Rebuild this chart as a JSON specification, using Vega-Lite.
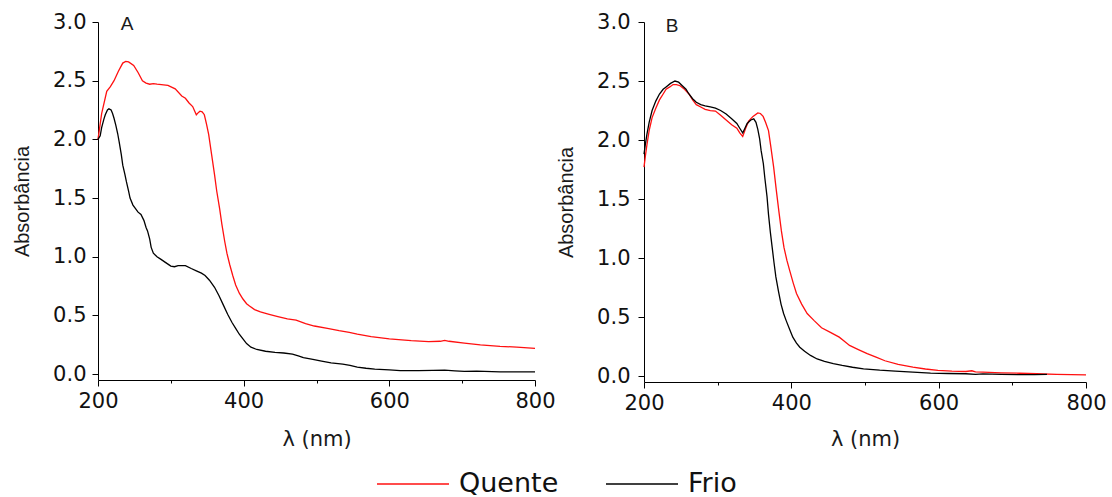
{
  "$schema": "https://vega.github.io/schema/vega-lite/v6.json",
  "padding": {"left": 12, "top": 11, "right": 5, "bottom": 0},
  "background": "white",
  "datasets": {
    "spectra": [
      {"p":"A","s":"Quente","nm":200,"a":2.0},{"p":"A","s":"Quente","nm":205,"a":2.22},{"p":"A","s":"Quente","nm":212,"a":2.41},{"p":"A","s":"Quente","nm":217,"a":2.45},{"p":"A","s":"Quente","nm":222,"a":2.5},{"p":"A","s":"Quente","nm":228,"a":2.58},{"p":"A","s":"Quente","nm":234,"a":2.65},{"p":"A","s":"Quente","nm":238,"a":2.665},{"p":"A","s":"Quente","nm":242,"a":2.66},{"p":"A","s":"Quente","nm":249,"a":2.63},{"p":"A","s":"Quente","nm":255,"a":2.57},{"p":"A","s":"Quente","nm":261,"a":2.5},{"p":"A","s":"Quente","nm":266,"a":2.48},{"p":"A","s":"Quente","nm":271,"a":2.47},{"p":"A","s":"Quente","nm":276,"a":2.475},{"p":"A","s":"Quente","nm":281,"a":2.47},{"p":"A","s":"Quente","nm":290,"a":2.465},{"p":"A","s":"Quente","nm":296,"a":2.46},{"p":"A","s":"Quente","nm":306,"a":2.43},{"p":"A","s":"Quente","nm":315,"a":2.37},{"p":"A","s":"Quente","nm":320,"a":2.35},{"p":"A","s":"Quente","nm":325,"a":2.31},{"p":"A","s":"Quente","nm":330,"a":2.28},{"p":"A","s":"Quente","nm":335,"a":2.21},{"p":"A","s":"Quente","nm":338,"a":2.23},{"p":"A","s":"Quente","nm":340,"a":2.24},{"p":"A","s":"Quente","nm":343,"a":2.235},{"p":"A","s":"Quente","nm":346,"a":2.21},{"p":"A","s":"Quente","nm":349,"a":2.13},{"p":"A","s":"Quente","nm":352,"a":2.04},{"p":"A","s":"Quente","nm":356,"a":1.87},{"p":"A","s":"Quente","nm":360,"a":1.7},{"p":"A","s":"Quente","nm":363,"a":1.56},{"p":"A","s":"Quente","nm":367,"a":1.41},{"p":"A","s":"Quente","nm":370,"a":1.28},{"p":"A","s":"Quente","nm":374,"a":1.13},{"p":"A","s":"Quente","nm":377,"a":1.03},{"p":"A","s":"Quente","nm":381,"a":0.93},{"p":"A","s":"Quente","nm":385,"a":0.84},{"p":"A","s":"Quente","nm":389,"a":0.76},{"p":"A","s":"Quente","nm":394,"a":0.69},{"p":"A","s":"Quente","nm":399,"a":0.64},{"p":"A","s":"Quente","nm":404,"a":0.6},{"p":"A","s":"Quente","nm":408,"a":0.58},{"p":"A","s":"Quente","nm":415,"a":0.55},{"p":"A","s":"Quente","nm":423,"a":0.53},{"p":"A","s":"Quente","nm":435,"a":0.51},{"p":"A","s":"Quente","nm":447,"a":0.49},{"p":"A","s":"Quente","nm":460,"a":0.47},{"p":"A","s":"Quente","nm":472,"a":0.46},{"p":"A","s":"Quente","nm":485,"a":0.43},{"p":"A","s":"Quente","nm":497,"a":0.41},{"p":"A","s":"Quente","nm":515,"a":0.39},{"p":"A","s":"Quente","nm":531,"a":0.37},{"p":"A","s":"Quente","nm":545,"a":0.355},{"p":"A","s":"Quente","nm":556,"a":0.34},{"p":"A","s":"Quente","nm":575,"a":0.32},{"p":"A","s":"Quente","nm":600,"a":0.3},{"p":"A","s":"Quente","nm":630,"a":0.285},{"p":"A","s":"Quente","nm":654,"a":0.277},{"p":"A","s":"Quente","nm":670,"a":0.28},{"p":"A","s":"Quente","nm":676,"a":0.288},{"p":"A","s":"Quente","nm":682,"a":0.28},{"p":"A","s":"Quente","nm":703,"a":0.265},{"p":"A","s":"Quente","nm":725,"a":0.25},{"p":"A","s":"Quente","nm":752,"a":0.237},{"p":"A","s":"Quente","nm":775,"a":0.23},{"p":"A","s":"Quente","nm":800,"a":0.22},
      {"p":"A","s":"Frio","nm":200,"a":2.0},{"p":"A","s":"Frio","nm":203,"a":2.03},{"p":"A","s":"Frio","nm":205,"a":2.1},{"p":"A","s":"Frio","nm":208,"a":2.17},{"p":"A","s":"Frio","nm":210,"a":2.21},{"p":"A","s":"Frio","nm":213,"a":2.25},{"p":"A","s":"Frio","nm":215,"a":2.26},{"p":"A","s":"Frio","nm":218,"a":2.25},{"p":"A","s":"Frio","nm":220,"a":2.22},{"p":"A","s":"Frio","nm":222,"a":2.18},{"p":"A","s":"Frio","nm":224.5,"a":2.12},{"p":"A","s":"Frio","nm":227,"a":2.05},{"p":"A","s":"Frio","nm":229,"a":1.98},{"p":"A","s":"Frio","nm":232,"a":1.87},{"p":"A","s":"Frio","nm":234,"a":1.78},{"p":"A","s":"Frio","nm":237,"a":1.7},{"p":"A","s":"Frio","nm":239,"a":1.64},{"p":"A","s":"Frio","nm":242,"a":1.56},{"p":"A","s":"Frio","nm":244,"a":1.5},{"p":"A","s":"Frio","nm":248,"a":1.44},{"p":"A","s":"Frio","nm":251.5,"a":1.41},{"p":"A","s":"Frio","nm":255,"a":1.38},{"p":"A","s":"Frio","nm":259,"a":1.36},{"p":"A","s":"Frio","nm":263,"a":1.31},{"p":"A","s":"Frio","nm":266,"a":1.25},{"p":"A","s":"Frio","nm":268,"a":1.22},{"p":"A","s":"Frio","nm":271,"a":1.15},{"p":"A","s":"Frio","nm":273,"a":1.08},{"p":"A","s":"Frio","nm":276,"a":1.03},{"p":"A","s":"Frio","nm":281,"a":1.0},{"p":"A","s":"Frio","nm":286,"a":0.98},{"p":"A","s":"Frio","nm":293,"a":0.95},{"p":"A","s":"Frio","nm":300,"a":0.92},{"p":"A","s":"Frio","nm":305,"a":0.915},{"p":"A","s":"Frio","nm":310,"a":0.925},{"p":"A","s":"Frio","nm":320,"a":0.925},{"p":"A","s":"Frio","nm":328,"a":0.9},{"p":"A","s":"Frio","nm":335,"a":0.88},{"p":"A","s":"Frio","nm":342,"a":0.86},{"p":"A","s":"Frio","nm":347,"a":0.84},{"p":"A","s":"Frio","nm":353,"a":0.8},{"p":"A","s":"Frio","nm":360,"a":0.74},{"p":"A","s":"Frio","nm":366,"a":0.67},{"p":"A","s":"Frio","nm":372,"a":0.59},{"p":"A","s":"Frio","nm":378,"a":0.51},{"p":"A","s":"Frio","nm":384,"a":0.44},{"p":"A","s":"Frio","nm":389,"a":0.39},{"p":"A","s":"Frio","nm":394,"a":0.34},{"p":"A","s":"Frio","nm":399,"a":0.3},{"p":"A","s":"Frio","nm":404,"a":0.26},{"p":"A","s":"Frio","nm":410,"a":0.23},{"p":"A","s":"Frio","nm":418,"a":0.21},{"p":"A","s":"Frio","nm":430,"a":0.195},{"p":"A","s":"Frio","nm":443,"a":0.185},{"p":"A","s":"Frio","nm":455,"a":0.18},{"p":"A","s":"Frio","nm":467,"a":0.17},{"p":"A","s":"Frio","nm":475,"a":0.155},{"p":"A","s":"Frio","nm":482,"a":0.14},{"p":"A","s":"Frio","nm":495,"a":0.125},{"p":"A","s":"Frio","nm":507,"a":0.11},{"p":"A","s":"Frio","nm":520,"a":0.095},{"p":"A","s":"Frio","nm":536,"a":0.085},{"p":"A","s":"Frio","nm":546,"a":0.075},{"p":"A","s":"Frio","nm":556,"a":0.06},{"p":"A","s":"Frio","nm":568,"a":0.05},{"p":"A","s":"Frio","nm":580,"a":0.043},{"p":"A","s":"Frio","nm":600,"a":0.037},{"p":"A","s":"Frio","nm":615,"a":0.03},{"p":"A","s":"Frio","nm":640,"a":0.03},{"p":"A","s":"Frio","nm":660,"a":0.032},{"p":"A","s":"Frio","nm":676,"a":0.034},{"p":"A","s":"Frio","nm":690,"a":0.028},{"p":"A","s":"Frio","nm":703,"a":0.023},{"p":"A","s":"Frio","nm":720,"a":0.025},{"p":"A","s":"Frio","nm":752,"a":0.02},{"p":"A","s":"Frio","nm":800,"a":0.02},
      {"p":"B","s":"Quente","nm":200,"a":1.77},{"p":"B","s":"Quente","nm":202,"a":1.87},{"p":"B","s":"Quente","nm":204,"a":1.96},{"p":"B","s":"Quente","nm":207,"a":2.08},{"p":"B","s":"Quente","nm":211,"a":2.19},{"p":"B","s":"Quente","nm":216,"a":2.27},{"p":"B","s":"Quente","nm":221,"a":2.34},{"p":"B","s":"Quente","nm":226,"a":2.39},{"p":"B","s":"Quente","nm":230,"a":2.43},{"p":"B","s":"Quente","nm":235,"a":2.45},{"p":"B","s":"Quente","nm":239.5,"a":2.47},{"p":"B","s":"Quente","nm":244,"a":2.47},{"p":"B","s":"Quente","nm":249,"a":2.46},{"p":"B","s":"Quente","nm":255,"a":2.43},{"p":"B","s":"Quente","nm":261,"a":2.39},{"p":"B","s":"Quente","nm":266,"a":2.34},{"p":"B","s":"Quente","nm":271,"a":2.3},{"p":"B","s":"Quente","nm":277,"a":2.28},{"p":"B","s":"Quente","nm":283,"a":2.26},{"p":"B","s":"Quente","nm":290,"a":2.25},{"p":"B","s":"Quente","nm":297,"a":2.245},{"p":"B","s":"Quente","nm":304,"a":2.21},{"p":"B","s":"Quente","nm":311.5,"a":2.17},{"p":"B","s":"Quente","nm":319,"a":2.13},{"p":"B","s":"Quente","nm":326,"a":2.1},{"p":"B","s":"Quente","nm":330,"a":2.06},{"p":"B","s":"Quente","nm":334,"a":2.03},{"p":"B","s":"Quente","nm":338,"a":2.1},{"p":"B","s":"Quente","nm":342,"a":2.16},{"p":"B","s":"Quente","nm":348,"a":2.2},{"p":"B","s":"Quente","nm":354.5,"a":2.23},{"p":"B","s":"Quente","nm":358,"a":2.225},{"p":"B","s":"Quente","nm":361.7,"a":2.2},{"p":"B","s":"Quente","nm":365,"a":2.15},{"p":"B","s":"Quente","nm":369,"a":2.08},{"p":"B","s":"Quente","nm":372,"a":1.95},{"p":"B","s":"Quente","nm":376,"a":1.77},{"p":"B","s":"Quente","nm":379.5,"a":1.58},{"p":"B","s":"Quente","nm":383,"a":1.4},{"p":"B","s":"Quente","nm":386.5,"a":1.23},{"p":"B","s":"Quente","nm":390,"a":1.09},{"p":"B","s":"Quente","nm":394,"a":0.98},{"p":"B","s":"Quente","nm":398,"a":0.89},{"p":"B","s":"Quente","nm":402.5,"a":0.79},{"p":"B","s":"Quente","nm":407,"a":0.7},{"p":"B","s":"Quente","nm":414,"a":0.61},{"p":"B","s":"Quente","nm":421.5,"a":0.53},{"p":"B","s":"Quente","nm":431,"a":0.47},{"p":"B","s":"Quente","nm":441,"a":0.41},{"p":"B","s":"Quente","nm":453,"a":0.37},{"p":"B","s":"Quente","nm":465,"a":0.33},{"p":"B","s":"Quente","nm":472,"a":0.295},{"p":"B","s":"Quente","nm":479,"a":0.26},{"p":"B","s":"Quente","nm":491,"a":0.225},{"p":"B","s":"Quente","nm":503,"a":0.19},{"p":"B","s":"Quente","nm":515,"a":0.16},{"p":"B","s":"Quente","nm":527,"a":0.13},{"p":"B","s":"Quente","nm":545,"a":0.1},{"p":"B","s":"Quente","nm":565,"a":0.076},{"p":"B","s":"Quente","nm":582,"a":0.06},{"p":"B","s":"Quente","nm":599,"a":0.048},{"p":"B","s":"Quente","nm":618,"a":0.042},{"p":"B","s":"Quente","nm":637,"a":0.039},{"p":"B","s":"Quente","nm":645,"a":0.045},{"p":"B","s":"Quente","nm":650,"a":0.035},{"p":"B","s":"Quente","nm":660,"a":0.033},{"p":"B","s":"Quente","nm":685,"a":0.028},{"p":"B","s":"Quente","nm":710,"a":0.024},{"p":"B","s":"Quente","nm":733,"a":0.02},{"p":"B","s":"Quente","nm":760,"a":0.015},{"p":"B","s":"Quente","nm":780,"a":0.012},{"p":"B","s":"Quente","nm":800,"a":0.011},
      {"p":"B","s":"Frio","nm":200,"a":1.88},{"p":"B","s":"Frio","nm":202,"a":1.97},{"p":"B","s":"Frio","nm":204,"a":2.05},{"p":"B","s":"Frio","nm":207,"a":2.15},{"p":"B","s":"Frio","nm":211,"a":2.25},{"p":"B","s":"Frio","nm":216,"a":2.33},{"p":"B","s":"Frio","nm":221,"a":2.39},{"p":"B","s":"Frio","nm":226,"a":2.43},{"p":"B","s":"Frio","nm":230,"a":2.45},{"p":"B","s":"Frio","nm":236,"a":2.48},{"p":"B","s":"Frio","nm":242,"a":2.5},{"p":"B","s":"Frio","nm":247,"a":2.49},{"p":"B","s":"Frio","nm":252,"a":2.46},{"p":"B","s":"Frio","nm":257,"a":2.43},{"p":"B","s":"Frio","nm":261,"a":2.39},{"p":"B","s":"Frio","nm":266,"a":2.35},{"p":"B","s":"Frio","nm":271,"a":2.32},{"p":"B","s":"Frio","nm":277,"a":2.3},{"p":"B","s":"Frio","nm":283,"a":2.29},{"p":"B","s":"Frio","nm":290,"a":2.28},{"p":"B","s":"Frio","nm":297,"a":2.27},{"p":"B","s":"Frio","nm":304,"a":2.25},{"p":"B","s":"Frio","nm":311.5,"a":2.22},{"p":"B","s":"Frio","nm":319,"a":2.18},{"p":"B","s":"Frio","nm":326,"a":2.14},{"p":"B","s":"Frio","nm":330,"a":2.1},{"p":"B","s":"Frio","nm":334,"a":2.06},{"p":"B","s":"Frio","nm":337,"a":2.1},{"p":"B","s":"Frio","nm":340,"a":2.14},{"p":"B","s":"Frio","nm":345,"a":2.17},{"p":"B","s":"Frio","nm":349,"a":2.18},{"p":"B","s":"Frio","nm":352,"a":2.15},{"p":"B","s":"Frio","nm":354.5,"a":2.09},{"p":"B","s":"Frio","nm":357,"a":2.01},{"p":"B","s":"Frio","nm":359,"a":1.91},{"p":"B","s":"Frio","nm":362,"a":1.8},{"p":"B","s":"Frio","nm":364,"a":1.68},{"p":"B","s":"Frio","nm":367,"a":1.52},{"p":"B","s":"Frio","nm":369,"a":1.37},{"p":"B","s":"Frio","nm":371.5,"a":1.22},{"p":"B","s":"Frio","nm":374,"a":1.09},{"p":"B","s":"Frio","nm":376.5,"a":0.96},{"p":"B","s":"Frio","nm":379,"a":0.84},{"p":"B","s":"Frio","nm":382.5,"a":0.72},{"p":"B","s":"Frio","nm":386,"a":0.61},{"p":"B","s":"Frio","nm":389.5,"a":0.53},{"p":"B","s":"Frio","nm":393,"a":0.47},{"p":"B","s":"Frio","nm":397.5,"a":0.4},{"p":"B","s":"Frio","nm":402,"a":0.33},{"p":"B","s":"Frio","nm":407,"a":0.28},{"p":"B","s":"Frio","nm":411.5,"a":0.245},{"p":"B","s":"Frio","nm":418,"a":0.21},{"p":"B","s":"Frio","nm":426,"a":0.175},{"p":"B","s":"Frio","nm":435,"a":0.145},{"p":"B","s":"Frio","nm":445,"a":0.124},{"p":"B","s":"Frio","nm":457,"a":0.105},{"p":"B","s":"Frio","nm":469,"a":0.09},{"p":"B","s":"Frio","nm":483,"a":0.075},{"p":"B","s":"Frio","nm":498,"a":0.062},{"p":"B","s":"Frio","nm":520,"a":0.05},{"p":"B","s":"Frio","nm":541,"a":0.042},{"p":"B","s":"Frio","nm":565,"a":0.033},{"p":"B","s":"Frio","nm":589,"a":0.025},{"p":"B","s":"Frio","nm":613,"a":0.022},{"p":"B","s":"Frio","nm":637,"a":0.02},{"p":"B","s":"Frio","nm":650,"a":0.015},{"p":"B","s":"Frio","nm":660,"a":0.018},{"p":"B","s":"Frio","nm":685,"a":0.014},{"p":"B","s":"Frio","nm":710,"a":0.012},{"p":"B","s":"Frio","nm":730,"a":0.013},{"p":"B","s":"Frio","nm":747,"a":0.014}
    ]
  },
  "config": {
    "view": {"stroke": null},
    "axis": {
      "grid": false,
      "domainColor": "#000000",
      "domainWidth": 1,
      "tickColor": "#000000",
      "tickWidth": 1,
      "labelColor": "#111111",
      "titleColor": "#1a1a1a",
      "labelFont": "DejaVu Sans",
      "labelFontSize": 21,
      "titleFontWeight": "normal",
      "labelFlush": false,
      "labelOverlap": false
    }
  },
  "spacing": 0,
  "resolve": {"scale": {"x": "independent", "y": "independent", "color": "shared"}, "legend": {"color": "shared"}},
  "hconcat": [
    {
      "width": 437,
      "height": 358,
      "layer": [
        {
          "data": {"name": "spectra"},
          "transform": [{"filter": "datum.p == 'A'"}],
          "mark": {"type": "line", "strokeWidth": 1.3},
          "encoding": {
            "x": {"field": "nm", "type": "quantitative",
              "scale": {"domain": [200, 800], "nice": false, "zero": false},
              "axis": {"values": [200,300,400,500,600,700,800], "format": "d",
                "labelExpr": "datum.value % 200 == 0 ? datum.label : ''",
                "tickSize": {"condition": {"test": "datum.value % 200 != 0", "value": 3}, "value": 6},
                "labelPadding": 4, "title": "λ (nm)", "titleFont": "DejaVu Sans", "titleFontSize": 21, "titlePadding": 17}},
            "y": {"field": "a", "type": "quantitative",
              "scale": {"domain": [-0.05, 3.0], "nice": false, "zero": false},
              "axis": {"values": [0,0.25,0.5,0.75,1,1.25,1.5,1.75,2,2.25,2.5,2.75,3],
                "labelExpr": "(datum.value*2)%1 == 0 ? format(datum.value, '.1f') : ''",
                "tickSize": {"condition": {"test": "(datum.value*2)%1 != 0", "value": 3}, "value": 6},
                "labelPadding": 6, "title": "Absorbância", "titleFont": "Liberation Sans", "titleFontSize": 20, "titlePadding": 20}},
            "color": {"field": "s", "type": "nominal",
              "scale": {"domain": ["Quente", "Frio"], "range": ["#ff1010", "#000000"]},
              "legend": {"orient": "none", "legendX": 278, "legendY": 447, "direction": "horizontal", "title": null,
                "symbolType": "stroke", "symbolSize": 5184, "symbolStrokeWidth": 1.3, "clipHeight": 30,
                "labelFont": "DejaVu Sans", "labelFontSize": 27, "labelColor": "#111111", "labelOffset": 9,
                "columnPadding": 46, "padding": 0}}
          }
        },
        {
          "data": {"values": [{}]},
          "mark": {"type": "text", "font": "Liberation Sans", "fontSize": 19, "color": "#1a1a1a", "baseline": "middle", "align": "center"},
          "encoding": {"x": {"datum": 240, "type": "quantitative"}, "y": {"datum": 2.98, "type": "quantitative"}, "text": {"value": "A"}}
        }
      ]
    },
    {
      "width": 442,
      "height": 360,
      "layer": [
        {
          "data": {"name": "spectra"},
          "transform": [{"filter": "datum.p == 'B'"}],
          "mark": {"type": "line", "strokeWidth": 1.3},
          "encoding": {
            "x": {"field": "nm", "type": "quantitative",
              "scale": {"domain": [200, 800], "nice": false, "zero": false},
              "axis": {"values": [200,300,400,500,600,700,800], "format": "d",
                "labelExpr": "datum.value % 200 == 0 ? datum.label : ''",
                "tickSize": {"condition": {"test": "datum.value % 200 != 0", "value": 3}, "value": 6},
                "labelPadding": 4, "title": "λ (nm)", "titleFont": "DejaVu Sans", "titleFontSize": 21, "titlePadding": 15}},
            "y": {"field": "a", "type": "quantitative",
              "scale": {"domain": [-0.05, 3.0], "nice": false, "zero": false},
              "axis": {"values": [0,0.25,0.5,0.75,1,1.25,1.5,1.75,2,2.25,2.5,2.75,3],
                "labelExpr": "(datum.value*2)%1 == 0 ? format(datum.value, '.1f') : ''",
                "tickSize": {"condition": {"test": "(datum.value*2)%1 != 0", "value": 3}, "value": 6},
                "labelPadding": 8, "title": "Absorbância", "titleFont": "Liberation Sans", "titleFontSize": 20, "titlePadding": 20}},
            "color": {"field": "s", "type": "nominal",
              "scale": {"domain": ["Quente", "Frio"], "range": ["#ff1010", "#000000"]},
              "legend": {"orient": "none", "legendX": 278, "legendY": 447, "direction": "horizontal", "title": null,
                "symbolType": "stroke", "symbolSize": 5184, "symbolStrokeWidth": 1.3, "clipHeight": 30,
                "labelFont": "DejaVu Sans", "labelFontSize": 27, "labelColor": "#111111", "labelOffset": 9,
                "columnPadding": 46, "padding": 0}}
          }
        },
        {
          "data": {"values": [{}]},
          "mark": {"type": "text", "font": "Liberation Sans", "fontSize": 19, "color": "#1a1a1a", "baseline": "middle", "align": "center"},
          "encoding": {"x": {"datum": 238, "type": "quantitative"}, "y": {"datum": 2.97, "type": "quantitative"}, "text": {"value": "B"}}
        }
      ]
    }
  ]
}
